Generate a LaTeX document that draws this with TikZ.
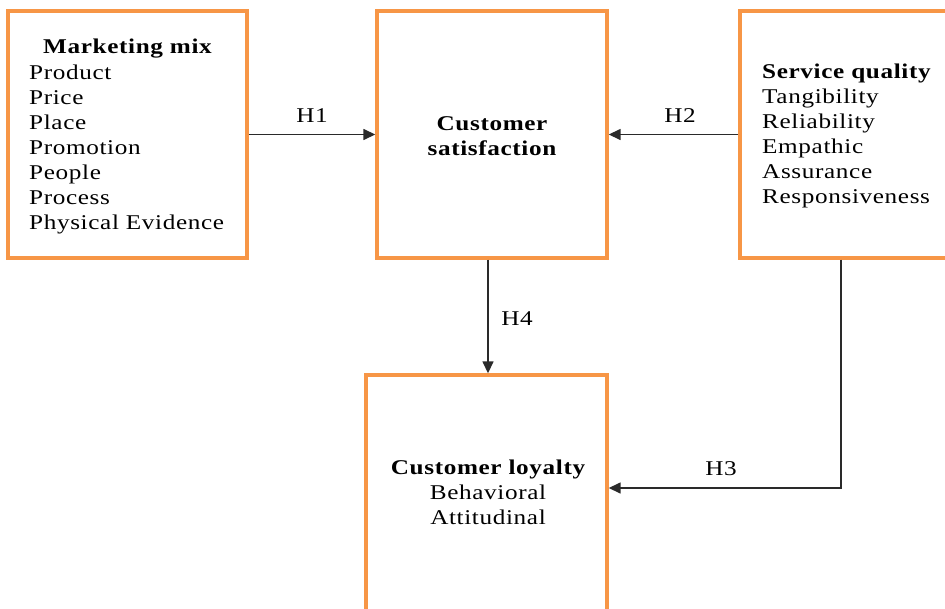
\documentclass[tikz,border=0pt]{standalone}
\usepackage{fontspec}
\setmainfont{Liberation Serif}[FakeStretch=1.2,LetterSpace=3]
\usetikzlibrary{arrows.meta}
\definecolor{boxorange}{HTML}{F79646}
\definecolor{linegray}{HTML}{2A2A2A}
\tikzset{
  box/.style={draw=boxorange, line width=3.4pt, fill=white, rectangle, inner sep=0pt},
  txt/.style={font=\fontsize{21}{25}\selectfont, inner sep=0pt, text=black},
  lbl/.style={font=\fontsize{21}{25}\selectfont, inner sep=0pt, text=black},
  arr/.style={draw=linegray, line width=1.5pt, -{Triangle[length=12pt,width=11pt]}}
}
\begin{document}
\begin{tikzpicture}[x=1pt,y=-1pt]
\useasboundingbox (0,0) rectangle (945,608);
\clip (0,0) rectangle (945,608);
\fill[white] (0,0) rectangle (945,608);
% boxes
\node[box, minimum width=239pt, minimum height=247pt] (mm) at (127.5,134.5) {};
\node[box, minimum width=230pt, minimum height=247pt] (cs) at (492,134.5) {};
\node[box, minimum width=220pt, minimum height=247pt] (sq) at (850,134.5) {};
\node[box, minimum width=241pt, minimum height=275pt] (cl) at (486.5,512.5) {};
% marketing mix
\node[txt, anchor=base, font=\fontsize{21}{25}\selectfont\bfseries] (mmh) at (127.5,53) {Marketing mix};
\foreach \t [count=\i] in {Product,Price,Place,Promotion,People,Process,Physical Evidence}
  \node[txt, anchor=base west] (mm\i) at (29,{79+25*(\i-1)}) {\t};
% customer satisfaction
\node[txt, anchor=base, font=\fontsize{21}{25}\selectfont\bfseries] (cs1) at (492,130.5) {Customer};
\node[txt, anchor=base, font=\fontsize{21}{25}\selectfont\bfseries] (cs2) at (492,155.5) {satisfaction};
% service quality
\node[txt, anchor=base west, font=\fontsize{21}{25}\selectfont\bfseries] (sqh) at (762,78) {Service quality};
\foreach \t [count=\i] in {Tangibility,Reliability,Empathic,Assurance,Responsiveness}
  \node[txt, anchor=base west] (sq\i) at (762,{103+25*(\i-1)}) {\t};
% customer loyalty
\node[txt, anchor=base, font=\fontsize{21}{25}\selectfont\bfseries] (clh) at (488,474) {Customer loyalty};
\node[txt, anchor=base] (cl1) at (488,499) {Behavioral};
\node[txt, anchor=base] (cl2) at (488,524) {Attitudinal};
% connectors
\coordinate (h4x) at (488,0);
\coordinate (h3c) at (841,488);
\draw[arr] (mm.east) -- (cs.west);
\draw[arr] (sq.west) -- (cs.east);
\draw[arr] (cs.south -| h4x) -- (cl.north -| h4x);
\draw[arr] (sq.south -| h3c) |- (cl.east |- h3c);
% labels
\node[lbl] (H1) at (312,116) {H1};
\node[lbl] (H2) at (680,116) {H2};
\node[lbl] (H4) at (517,319) {H4};
\node[lbl] (H3) at (721,469) {H3};
\end{tikzpicture}
\end{document}
